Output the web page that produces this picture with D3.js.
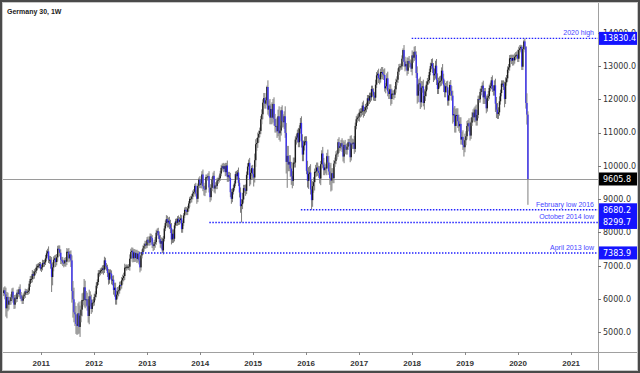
<!DOCTYPE html>
<html>
<head>
<meta charset="utf-8">
<script src="https://cdn.jsdelivr.net/npm/d3@7"></script>
<style>
  body { margin: 0; background: #fff; }
</style>
</head>
<body>
<script>
const width = 640, height = 373;
const plot = { left: 2, right: 598, top: 2, bottom: 352 };

const title = "Germany 30, 1W";

// weekly candles, first one is the week of 12 April 2010
const firstWeek = new Date(2010, 3, 12);
const firstOpen = 6230;

const close2010 = [6180,6260,6140,5720,6060,5830,5950,5940,6050,6220,6010,5830,6040,6000,6190,6150,6290,6110,6010,5950,6080,6130,6230,6210,6210,6250,6460,6600,6600,6750,6700,6820,6850,6950,6990,7000,7050,6910];
const close2011 = [6950,7080,7060,7100,7220,7370,7430,7180,7180,7060,6660,6950,7180,7220,7110,7250,7510,7490,7390,7180,7160,7090,7070,7160,7120,7420,7420,7220,7340,7160,6240,5990,5600,5540,5250,5190,5570,5160,5500,5680,5970,5970,6350,5970,5990,5800,5490,6080,5980,5700,5880,5900];
const close2012 = [6060,6140,6400,6510,6770,6790,6850,6870,6920,6880,7160,6990,6950,6780,6580,6790,6760,6560,6580,6270,6340,5980,6130,6230,6260,6420,6410,6560,6630,6690,6940,6950,6970,6970,6970,7210,7410,7450,7220,7400,7230,7380,7200,7360,7160,6950,7310,7410,7520,7590,7660,7610,7780];
const close2013 = [7710,7700,7880,7830,7630,7590,7660,7710,7990,8040,7910,7800,7660,7740,7460,7810,8120,8280,8400,8300,8350,8250,8130,7790,7960,7810,8210,8330,8290,8410,8320,8370,8420,8100,8280,8510,8680,8660,8620,8720,8870,9010,9010,9080,9170,9220,9400,9170,9010,9400,9590,9430];
const close2014 = [9470,9740,9390,9310,9290,9660,9660,9690,9350,9060,9340,9590,9700,9320,9410,9400,9560,9580,9630,9770,9940,9990,9910,9990,9810,10010,9670,9720,9640,9210,9010,9220,9340,9470,9750,9690,9800,9490,9200,8790,8850,8990,9330,9290,9250,9730,9980,10090,9590,9790,9930,9760];
const close2015 = [9650,10170,10650,10690,10850,10960,11050,11400,11550,11900,12040,11870,11970,12370,11690,11810,11450,11710,11450,11860,11410,11200,11200,11040,11490,10980,11060,11670,11350,11310,11490,10990,10120,10300,10040,10120,9920,9690,9550,10100,10100,10790,10850,10990,10710,11120,11290,10750,10340,10610,10730,10740];
const close2016 = [9850,9550,9760,9800,9290,8970,9390,9510,9820,9830,9950,9850,9790,9620,10050,10370,10040,9870,9950,9920,10290,10100,9830,9630,9560,9780,9630,10070,10150,10340,10370,10710,10540,10590,10680,10570,10280,10630,10510,10490,10580,10710,10700,10260,10670,10660,10700,10510,11200,11400,11450,11480];
const close2017 = [11600,11630,11630,11810,11650,11670,11760,11800,12030,11960,12100,12060,12310,12230,12110,12050,12440,12720,12770,12640,12600,12820,12820,12750,12730,12330,12390,12630,12240,12160,12300,12010,12170,12170,12140,12300,12520,12590,12830,12960,12990,12990,13220,13480,13130,12990,13060,12860,13150,13100,13070,12920];
const close2018 = [13320,13250,13430,13340,12790,12110,12450,12480,11910,12350,12390,11890,12100,12240,12440,12540,12580,12820,13000,13080,12940,12720,12770,13010,12580,12310,12500,12540,12560,12860,12620,12420,12210,12390,12360,11960,12120,12430,12250,12110,11520,11550,11200,11520,11530,11340,11190,11260,10790,10870,10630,10560];
const close2019 = [10770,10890,11200,11280,11180,10910,11300,11460,11600,11460,11690,11360,11530,12010,12000,12220,12320,12410,12060,12240,12010,11730,12050,12100,12340,12400,12570,12320,12260,12420,11870,11690,11560,11610,11940,12190,12470,12470,12380,12010,12510,12630,12890,12960,13230,13240,13160,13240,13170,13280,13320,13340];
const close2020 = [13220,13480,13530,13580,12980,13510,13740,13580,11890,11540,9605.8];

// wick lengths above / below the body, in points
const up2010 = [80,90,120,200,150,130,120,110,90,100,120,110,80,100,90,100,80,150,100,110,90,90,80,70,80,90,80,90,100,120,90,80,80,90,70,80,60,60];
const dn2010 = [100,90,150,250,300,200,150,120,110,90,120,130,120,110,90,80,100,110,80,100,100,80,100,90,90,80,90,100,120,100,110,90,110,80,90,70,70,60];
const up2011 = [80,100,90,80,100,90,80,150,120,110,200,150,100,90,110,100,90,100,120,100,90,100,90,80,100,110,90,110,100,120,150,300,350,300,250,280,300,350,300,250,200,220,250,200,250,200,200,200,150,150,100,100];
const dn2011 = [100,90,100,90,80,80,90,100,120,150,450,250,120,100,150,100,120,120,110,130,120,100,120,90,150,100,120,120,100,200,350,550,300,350,300,270,250,200,300,200,200,150,200,250,200,150,200,250,200,150,100,100];
const up2012 = [100,90,100,80,100,80,70,80,90,100,110,80,90,80,120,100,100,100,120,130,150,150,120,130,120,100,110,100,100,100,120,80,70,60,80,130,100,100,90,100,100,90,100,90,80,100,100,80,90,80,90,80,80];
const dn2012 = [100,100,90,80,90,100,80,90,100,150,100,100,100,120,150,120,150,120,150,140,200,150,150,120,150,100,150,100,120,100,120,100,90,80,100,120,90,110,120,110,120,110,120,100,120,150,100,90,80,90,90,90,80];
const up2013 = [100,80,90,80,90,80,120,150,90,80,100,120,120,110,100,80,80,80,120,100,100,120,130,150,130,130,80,80,90,80,100,90,120,100,80,70,70,90,100,80,70,60,90,80,90,80,60,90,100,70,60,100];
const dn2013 = [100,100,90,100,100,150,120,120,80,80,100,100,120,150,80,120,80,80,80,150,150,150,150,150,110,120,80,90,90,90,100,90,100,110,110,90,80,100,100,100,90,100,120,110,90,100,80,90,150,100,60,100];
const up2014 = [100,100,150,100,100,80,80,90,150,100,100,80,100,150,100,90,80,70,80,80,90,80,100,80,100,80,150,100,100,150,100,100,90,80,80,100,80,150,150,150,150,200,100,100,150,100,100,100,150,100,80,100];
const dn2014 = [100,150,150,200,200,100,100,100,150,150,100,100,100,120,150,100,100,100,80,80,80,80,100,80,120,100,150,150,100,150,150,100,80,80,80,100,100,100,150,200,490,150,100,100,150,100,100,100,200,150,100,150];
const up2015 = [150,200,150,150,150,100,100,100,150,100,150,150,100,40,200,150,200,150,200,150,200,150,200,250,200,300,150,100,150,200,150,300,300,300,300,200,200,200,150,150,150,100,100,100,150,100,150,200,200,150,150,150];
const dn2015 = [270,150,200,200,150,150,100,100,150,150,100,150,150,150,150,200,200,200,200,150,200,200,200,200,150,200,250,150,200,150,200,150,350,780,200,200,250,260,225,150,150,150,150,150,150,150,150,200,200,200,150,100];
const up2016 = [150,300,200,200,250,300,150,150,100,200,150,150,150,200,100,100,200,200,150,100,100,200,200,200,460,150,150,100,100,100,100,100,150,100,100,150,200,100,150,150,100,100,100,200,250,150,100,200,100,100,100,100];
const dn2016 = [100,200,240,200,150,290,200,200,250,150,150,150,150,150,200,150,100,150,150,150,200,100,100,200,330,300,150,150,100,100,150,100,150,100,100,150,150,200,150,150,150,100,100,150,100,150,150,150,100,100,100,100];
const up2017 = [100,100,100,100,150,100,100,100,100,100,100,100,100,100,100,100,150,100,100,150,100,100,150,150,150,200,100,150,200,100,150,150,150,100,100,100,100,100,100,100,80,80,100,50,150,150,100,200,100,150,100,100];
const dn2017 = [150,150,150,100,200,150,100,150,100,150,100,150,100,150,150,100,100,100,100,150,150,100,150,150,150,100,150,100,150,150,150,200,150,100,150,100,100,100,100,100,100,100,100,100,150,150,100,150,100,150,100,100];
const up2018 = [150,100,150,170,100,200,150,150,200,200,150,200,200,150,100,100,150,100,100,130,150,150,150,150,200,200,150,150,150,100,200,150,150,100,150,200,150,100,150,150,150,200,250,200,200,200,200,200,200,150,200,200];
const dn2018 = [200,150,100,150,150,240,200,200,200,150,150,100,200,150,150,150,100,100,100,100,150,200,150,150,150,150,150,150,150,150,150,200,150,150,150,150,150,150,150,150,250,200,200,200,150,200,150,200,150,150,150,280];
const up2019 = [200,150,150,100,150,150,150,150,100,150,100,150,150,100,100,100,80,100,150,100,100,100,100,150,100,100,100,150,100,150,200,200,200,150,150,100,100,100,100,150,150,100,100,100,100,100,100,100,100,100,100,100];
const dn2019 = [150,150,100,150,150,150,100,100,100,150,150,150,150,100,100,100,100,100,200,200,150,150,100,100,100,100,100,100,150,150,250,250,150,150,100,100,100,100,100,250,150,100,100,100,100,100,100,150,150,100,100,100];
const up2020 = [150,100,100,60,50,50,50,90,20,290,100];
const dn2020 = [100,100,100,100,100,100,100,100,170,300,776];

const yTicks = [5000,6000,7000,8000,9000,10000,11000,12000,13000,14000];
const yearTicks = [2011,2012,2013,2014,2015,2016,2017,2018,2019,2020,2021];

// horizontal levels drawn on the chart
const levelNames = ["2020 high", "February low 2016", "October 2014 low", "April 2013 low"];
const levelValues = [13830.4, 8680.2, 8299.7, 7383.9];
const levelStarts = [new Date(2017, 11, 29), new Date(2015, 10, 26), new Date(2014, 2, 5), new Date(2012, 10, 5)];

const upColor = "#1c1c1c", downColor = "#3b30f2", wickColor = "#7d7d7d";
const levelColor = "#2222ff", noteColor = "#4646ff";

const closes = [].concat(close2010, close2011, close2012, close2013, close2014, close2015, close2016, close2017, close2018, close2019, close2020);
const wickUp = [].concat(up2010, up2011, up2012, up2013, up2014, up2015, up2016, up2017, up2018, up2019, up2020);
const wickDn = [].concat(dn2010, dn2011, dn2012, dn2013, dn2014, dn2015, dn2016, dn2017, dn2018, dn2019, dn2020);

const candles = closes.map(function (c, i) {
    const o = i === 0 ? firstOpen : closes[i - 1];
    return {
        date: d3.timeWeek.offset(firstWeek, i),
        open: o,
        close: c,
        high: Math.max(o, c) + wickUp[i],
        low: Math.min(o, c) - wickDn[i]
    };
});
const last = candles[candles.length - 1];

const x = d3.scaleTime()
    .domain([new Date(2010, 3, 6), new Date(2021, 6, 5)])
    .range([plot.left, plot.right]);
const y = d3.scaleLinear()
    .domain([4407, 14924])
    .range([plot.bottom, plot.top]);

const svg = d3.select("body").append("svg")
    .attr("width", width)
    .attr("height", height)
    .style("display", "block")
    .style("font-family", "'Liberation Sans', Arial, sans-serif");

svg.append("rect").attr("width", width).attr("height", height).attr("fill", "#fff");

svg.append("clipPath").attr("id", "plotclip")
    .append("rect")
    .attr("x", plot.left).attr("y", plot.top)
    .attr("width", plot.right - plot.left).attr("height", plot.bottom - plot.top);

// last price line
svg.append("line")
    .attr("x1", plot.left).attr("x2", plot.right)
    .attr("y1", Math.round(y(last.close)) + 0.5).attr("y2", Math.round(y(last.close)) + 0.5)
    .attr("stroke", "#9a9a9a").attr("stroke-width", 1);

const g = svg.append("g").attr("clip-path", "url(#plotclip)");

const candle = g.selectAll("g.candle")
    .data(candles)
    .enter()
    .append("g")
    .attr("class", "candle");

candle.append("line")
    .attr("x1", d => x(d.date)).attr("x2", d => x(d.date))
    .attr("y1", d => y(d.high)).attr("y2", d => y(d.low))
    .attr("stroke", wickColor).attr("stroke-width", 1);

candle.append("rect")
    .attr("x", d => x(d.date) - 0.7)
    .attr("width", 1.4)
    .attr("y", d => y(Math.max(d.open, d.close)))
    .attr("height", d => Math.max(1, Math.abs(y(d.open) - y(d.close))))
    .attr("fill", d => d.close >= d.open ? upColor : downColor);

// dotted levels with their notes
levelValues.forEach(function (v, i) {
    svg.append("line")
        .attr("x1", x(levelStarts[i])).attr("x2", plot.right)
        .attr("y1", y(v)).attr("y2", y(v))
        .attr("stroke", levelColor)
        .attr("stroke-width", 1.4)
        .attr("stroke-dasharray", "1.5,1.5");
    svg.append("text")
        .attr("x", plot.right - 4)
        .attr("y", y(v) - 3)
        .attr("text-anchor", "end")
        .attr("font-size", "7px")
        .attr("fill", noteColor)
        .text(levelNames[i]);
});

// title
svg.append("text")
    .attr("x", 7).attr("y", 14)
    .attr("font-size", "7px")
    .attr("font-weight", "bold")
    .attr("fill", "#222")
    .text(title);

// axis separators
svg.append("line")
    .attr("x1", plot.right + 0.5).attr("x2", plot.right + 0.5)
    .attr("y1", 0).attr("y2", height)
    .attr("stroke", "#a0a0a0");
svg.append("line")
    .attr("x1", 0).attr("x2", width)
    .attr("y1", plot.bottom + 0.5).attr("y2", plot.bottom + 0.5)
    .attr("stroke", "#a0a0a0");

// price axis
const yAxis = svg.append("g");
yAxis.selectAll("line")
    .data(yTicks)
    .enter()
    .append("line")
    .attr("x1", plot.right).attr("x2", plot.right + 3)
    .attr("y1", d => Math.round(y(d)) + 0.5).attr("y2", d => Math.round(y(d)) + 0.5)
    .attr("stroke", "#777");
yAxis.selectAll("text")
    .data(yTicks)
    .enter()
    .append("text")
    .attr("x", plot.right + 5)
    .attr("y", d => y(d))
    .attr("dy", "0.35em")
    .attr("font-family", "'DejaVu Sans', sans-serif")
    .attr("font-size", "8px")
    .attr("fill", "#333")
    .text(d => d3.format(".1f")(d));

// time axis
const xAxis = svg.append("g");
xAxis.selectAll("line")
    .data(yearTicks)
    .enter()
    .append("line")
    .attr("x1", d => Math.round(x(new Date(d, 0, 1))) + 0.5).attr("x2", d => Math.round(x(new Date(d, 0, 1))) + 0.5)
    .attr("y1", plot.bottom).attr("y2", plot.bottom + 3)
    .attr("stroke", "#888");
xAxis.selectAll("text")
    .data(yearTicks)
    .enter()
    .append("text")
    .attr("x", d => x(new Date(d, 0, 1)))
    .attr("y", 366)
    .attr("text-anchor", "middle")
    .attr("font-size", "8px")
    .attr("font-weight", "bold")
    .attr("fill", "#333")
    .text(d => d);

// price labels on the axis
const boxValues = levelValues.concat([last.close]);
const boxColors = levelValues.map(() => "#1414ff").concat(["#000"]);
boxValues.forEach(function (v, i) {
    svg.append("rect")
        .attr("x", plot.right + 1).attr("y", y(v) - 6.5)
        .attr("width", width - plot.right - 3).attr("height", 13)
        .attr("fill", boxColors[i]);
    svg.append("text")
        .attr("x", plot.right + 5)
        .attr("y", y(v))
        .attr("dy", "0.35em")
        .attr("font-family", "'DejaVu Sans', sans-serif")
        .attr("font-size", "8px")
        .attr("fill", "#fff")
        .text(d3.format(".1f")(v));
});

// frame
svg.append("rect")
    .attr("x", 1).attr("y", 1)
    .attr("width", width - 2).attr("height", height - 2)
    .attr("fill", "none")
    .attr("stroke", "#4a4a4a")
    .attr("stroke-width", 2);
svg.append("rect")
    .attr("x", 2.5).attr("y", 2.5)
    .attr("width", width - 5).attr("height", height - 5)
    .attr("fill", "none")
    .attr("stroke", "#c8c8c8")
    .attr("stroke-width", 1);
</script>
</body>
</html>
